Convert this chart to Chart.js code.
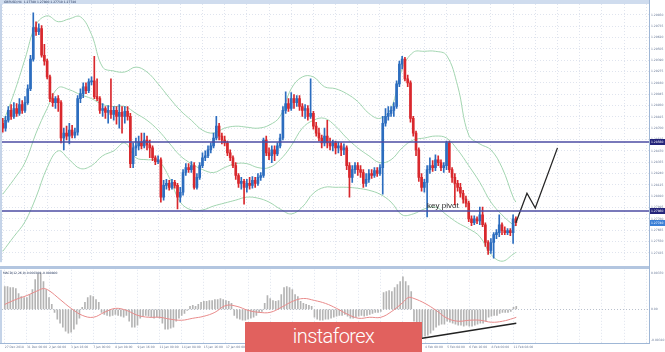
<!DOCTYPE html>
<html>
<head>
<meta charset="utf-8">
<title>GBPUSD H4</title>
<script src="https://cdn.jsdelivr.net/npm/chart.js@4.4.0/dist/chart.umd.min.js"></script>
<style>
  html, body { margin:0; padding:0; background:#ffffff; }
  body { width:665px; height:352px; overflow:hidden; position:relative; }
  canvas { position:absolute; left:0; display:block; }
  #mainCanvas { top:0; }
  #macdCanvas { top:266px; }
  #logo { position:absolute; left:245px; top:322px; width:177px; height:30px; background:#e1615e; color:#fff;
          font-family:Roboto, 'Open Sans', sans-serif; font-weight:300; font-size:20px; letter-spacing:-0.6px;
          line-height:28px; text-align:center; }
</style>
</head>
<body>
<canvas id="mainCanvas" width="665" height="266"></canvas>
<canvas id="macdCanvas" width="665" height="86"></canvas>
<div id="logo">instaforex</div>
<script>
// ---------------- DATA ----------------
const mainTitle = "GBPUSD,H4  1.27780 1.27800 1.27710 1.27740";
const macdTitle = "MACD(12,26,9) 0.000300 -0.000800";
const pivotLabel = "key pivot";

const dateTicks = ["27 Dec 2018","31 Dec 00:00","2 Jan 08:00","3 Jan 16:00","7 Jan 00:00","8 Jan 08:00",
  "9 Jan 16:00","11 Jan 00:00","14 Jan 08:00","15 Jan 16:00","17 Jan 00:00","18 Jan 08:00","21 Jan 16:00",
  "23 Jan 00:00","24 Jan 08:00","25 Jan 16:00","29 Jan 00:00","30 Jan 08:00","31 Jan 16:00","4 Feb 00:00",
  "5 Feb 08:00","6 Feb 16:00","8 Feb 00:00","11 Feb 08:00"];

const priceTicks = [1.2985,1.29735,1.2962,1.29505,1.2939,1.29275,1.2916,1.29045,1.2893,1.28815,1.287,
  1.28585,1.2847,1.28355,1.2824,1.28125,1.2801,1.27895,1.2778,1.27665,1.2755,1.27435];
const macdTicks = [0.0037, 0, -0.0031];

const open = [1.2875,1.2870,1.2878,1.2888,1.2882,1.2890,1.2885,1.2894,1.2888,1.2896,
1.2910,1.2940,1.2972,1.2968,1.2971,1.2944,1.2938,1.2922,1.2900,1.2896,
1.2900,1.2896,1.2860,1.2865,1.2862,1.2868,1.2863,1.2866,1.2900,1.2905,
1.2912,1.2908,1.2917,1.2918,1.2902,1.2900,1.2888,1.2890,1.2886,1.2888,
1.2884,1.2888,1.2882,1.2886,1.2882,1.2887,1.2882,1.2834,1.2850,1.2852,
1.2856,1.2852,1.2858,1.2853,1.2850,1.2840,1.2836,1.2838,1.2800,1.2812,
1.2814,1.2810,1.2815,1.2812,1.2800,1.2805,1.2825,1.2830,1.2828,1.2832,
1.2810,1.2820,1.2832,1.2840,1.2842,1.2848,1.2852,1.2860,1.2872,1.2862,
1.2858,1.2855,1.2845,1.2840,1.2832,1.2822,1.2814,1.2816,1.2810,1.2814,
1.2812,1.2817,1.2814,1.2820,1.2822,1.2858,1.2845,1.2842,1.2848,1.2844,
1.2852,1.2860,1.2888,1.2895,1.2890,1.2900,1.2896,1.2900,1.2892,1.2888,
1.2890,1.2882,1.2885,1.2872,1.2865,1.2860,1.2855,1.2862,1.2855,1.2852,
1.2855,1.2850,1.2852,1.2848,1.2850,1.2832,1.2820,1.2828,1.2832,1.2828,
1.2825,1.2814,1.2818,1.2824,1.2822,1.2827,1.2824,1.2830,1.2875,1.2882,
1.2885,1.2888,1.2892,1.2915,1.2935,1.2940,1.2920,1.2916,1.2880,1.2865,
1.2848,1.2820,1.2810,1.2815,1.2828,1.2832,1.2830,1.2838,1.2835,1.2830,
1.2832,1.2855,1.2828,1.2820,1.2814,1.2810,1.2804,1.2798,1.2794,1.2778,
1.2774,1.2778,1.2776,1.2782,1.2772,1.2754,1.2746,1.2754,1.2762,1.2764,
1.2772,1.2766,1.2764,1.2766,1.2764,1.2778];

const high = [1.2880,1.2882,1.2892,1.2894,1.2896,1.2895,1.2900,1.2898,1.2902,1.2914,
1.2944,1.2987,1.2978,1.2976,1.2974,1.2955,1.2940,1.2924,1.2905,1.2902,
1.2903,1.2898,1.2870,1.2872,1.2875,1.2873,1.2870,1.2903,1.2910,1.2916,
1.2916,1.2920,1.2922,1.2943,1.2920,1.2902,1.2895,1.2892,1.2893,1.2920,
1.2892,1.2892,1.2894,1.2892,1.2892,1.2892,1.2885,1.2855,1.2860,1.2862,
1.2865,1.2865,1.2862,1.2858,1.2852,1.2842,1.2842,1.2840,1.2817,1.2818,
1.2817,1.2818,1.2817,1.2814,1.2810,1.2828,1.2834,1.2834,1.2836,1.2835,
1.2824,1.2835,1.2845,1.2847,1.2852,1.2855,1.2865,1.2882,1.2875,1.2865,
1.2862,1.2857,1.2848,1.2842,1.2835,1.2824,1.2820,1.2818,1.2818,1.2820,
1.2821,1.2820,1.2824,1.2825,1.2860,1.2862,1.2850,1.2852,1.2852,1.2855,
1.2864,1.2892,1.2907,1.2900,1.2906,1.2904,1.2903,1.2903,1.2895,1.2894,
1.2893,1.2920,1.2887,1.2876,1.2870,1.2863,1.2870,1.2878,1.2860,1.2858,
1.2857,1.2856,1.2855,1.2854,1.2852,1.2835,1.2832,1.2835,1.2835,1.2832,
1.2828,1.2824,1.2828,1.2828,1.2830,1.2830,1.2833,1.2882,1.2890,1.2892,
1.2892,1.2896,1.2918,1.2938,1.2943,1.2942,1.2924,1.2918,1.2882,1.2867,
1.2850,1.2824,1.2818,1.2832,1.2840,1.2837,1.2843,1.2842,1.2838,1.2835,
1.2857,1.2857,1.2830,1.2824,1.2817,1.2814,1.2807,1.2801,1.2796,1.2781,
1.2781,1.2780,1.2790,1.2790,1.2774,1.2756,1.2758,1.2764,1.2767,1.2782,
1.2774,1.2770,1.2768,1.2768,1.2782,1.2780];

const low = [1.2866,1.2867,1.2876,1.2879,1.2880,1.2882,1.2883,1.2885,1.2886,1.2894,
1.2908,1.2938,1.2964,1.2965,1.2942,1.2934,1.2920,1.2897,1.2892,1.2890,
1.2887,1.2855,1.2848,1.2858,1.2854,1.2860,1.2860,1.2863,1.2896,1.2901,
1.2905,1.2906,1.2914,1.2900,1.2898,1.2885,1.2882,1.2880,1.2875,1.2880,
1.2878,1.2874,1.2870,1.2865,1.2875,1.2878,1.2830,1.2830,1.2842,1.2848,
1.2849,1.2850,1.2848,1.2840,1.2837,1.2833,1.2834,1.2795,1.2797,1.2808,
1.2807,1.2808,1.2809,1.2788,1.2795,1.2802,1.2822,1.2825,1.2825,1.2808,
1.2808,1.2818,1.2830,1.2837,1.2840,1.2845,1.2850,1.2858,1.2858,1.2854,
1.2852,1.2842,1.2837,1.2830,1.2818,1.2810,1.2808,1.2793,1.2805,1.2808,
1.2809,1.2810,1.2812,1.2817,1.2820,1.2842,1.2838,1.2835,1.2837,1.2842,
1.2850,1.2858,1.2885,1.2887,1.2888,1.2890,1.2892,1.2888,1.2882,1.2880,
1.2878,1.2880,1.2869,1.2862,1.2857,1.2850,1.2852,1.2850,1.2848,1.2847,
1.2844,1.2845,1.2842,1.2843,1.2828,1.2800,1.2815,1.2824,1.2822,1.2820,
1.2810,1.2811,1.2815,1.2819,1.2820,1.2821,1.2822,1.2803,1.2872,1.2878,
1.2882,1.2882,1.2890,1.2912,1.2930,1.2918,1.2912,1.2876,1.2862,1.2842,
1.2816,1.2806,1.2805,1.2780,1.2824,1.2826,1.2827,1.2832,1.2827,1.2825,
1.2828,1.2825,1.2815,1.2792,1.2806,1.2800,1.2794,1.2790,1.2775,1.2771,
1.2772,1.2773,1.2772,1.2770,1.2750,1.2742,1.2743,1.2738,1.2758,1.2760,
1.2762,1.2762,1.2762,1.2761,1.2753,1.2771];

const close = [1.2870,1.2878,1.2888,1.2882,1.2890,1.2885,1.2894,1.2888,1.2896,1.2910,
1.2940,1.2972,1.2968,1.2971,1.2944,1.2938,1.2922,1.2900,1.2896,1.2900,
1.2896,1.2860,1.2865,1.2862,1.2868,1.2863,1.2866,1.2900,1.2905,1.2912,
1.2908,1.2917,1.2918,1.2902,1.2900,1.2888,1.2890,1.2886,1.2888,1.2884,
1.2888,1.2882,1.2886,1.2882,1.2887,1.2882,1.2834,1.2850,1.2852,1.2856,
1.2852,1.2858,1.2853,1.2850,1.2840,1.2836,1.2838,1.2800,1.2812,1.2814,
1.2810,1.2815,1.2812,1.2800,1.2805,1.2825,1.2830,1.2828,1.2832,1.2810,
1.2820,1.2832,1.2840,1.2842,1.2848,1.2852,1.2860,1.2872,1.2862,1.2858,
1.2855,1.2845,1.2840,1.2832,1.2822,1.2814,1.2816,1.2810,1.2814,1.2812,
1.2817,1.2814,1.2820,1.2822,1.2858,1.2845,1.2842,1.2848,1.2844,1.2852,
1.2860,1.2888,1.2895,1.2890,1.2900,1.2896,1.2900,1.2892,1.2888,1.2890,
1.2882,1.2885,1.2872,1.2865,1.2860,1.2855,1.2862,1.2855,1.2852,1.2855,
1.2850,1.2852,1.2848,1.2850,1.2832,1.2820,1.2828,1.2832,1.2828,1.2825,
1.2814,1.2818,1.2824,1.2822,1.2827,1.2824,1.2830,1.2875,1.2882,1.2885,
1.2888,1.2892,1.2915,1.2935,1.2940,1.2920,1.2916,1.2880,1.2865,1.2848,
1.2820,1.2810,1.2815,1.2828,1.2832,1.2830,1.2838,1.2835,1.2830,1.2832,
1.2855,1.2828,1.2820,1.2814,1.2810,1.2804,1.2798,1.2794,1.2778,1.2774,
1.2778,1.2776,1.2782,1.2772,1.2754,1.2746,1.2754,1.2762,1.2764,1.2772,
1.2766,1.2764,1.2766,1.2764,1.2778,1.2774];

// Bollinger bands read every 4 bars
const bandBars = [0,4,8,12,16,20,24,28,32,36,40,44,48,52,56,60,64,68,72,76,80,84,88,92,96,100,
  104,108,112,116,120,124,128,132,136,140,144,148,152,156,160,164,168,172,176,180,184,185];
const upperBand = [1.2875,1.2905,1.2940,1.2975,1.2984,1.2978,1.2981,1.2983,1.2965,1.2932,
1.2928,1.2927,1.2932,1.2927,1.2915,1.2901,1.2888,1.2878,1.2868,1.2865,
1.2870,1.2872,1.2871,1.2870,1.2873,1.2882,1.2910,1.2922,1.2922,1.2912,
1.2910,1.2905,1.2897,1.2885,1.2880,1.2890,1.2930,1.2947,1.2948,1.2948,
1.2944,1.2913,1.2863,1.2854,1.2848,1.2830,1.2800,1.2795];
const middleBand = [1.2803,1.2818,1.2835,1.2865,1.2890,1.2911,1.2909,1.2904,1.2900,1.2894,
1.2892,1.2892,1.2885,1.2878,1.2868,1.2855,1.2842,1.2834,1.2828,1.2825,
1.2830,1.2834,1.2834,1.2830,1.2830,1.2838,1.2852,1.2870,1.2878,1.2880,
1.2872,1.2860,1.2850,1.2842,1.2835,1.2838,1.2850,1.2858,1.2860,1.2862,
1.2860,1.2848,1.2832,1.2815,1.2795,1.2782,1.2772,1.2771];
const lowerBand = [1.2745,1.2760,1.2775,1.2800,1.2830,1.2847,1.2838,1.2829,1.2832,1.2842,
1.2847,1.2855,1.2840,1.2838,1.2837,1.2820,1.2795,1.2787,1.2787,1.2791,
1.2794,1.2797,1.2800,1.2799,1.2795,1.2788,1.2783,1.2790,1.2804,1.2810,
1.2810,1.2810,1.2809,1.2807,1.2803,1.2795,1.2782,1.2783,1.2788,1.2790,
1.2782,1.2774,1.2768,1.2760,1.2742,1.2735,1.2742,1.2744];

const levels = [1.2856, 1.2786];
const pivotBar = 153;

// forecast path
const forecastBars = [185, 189, 192, 200];
const forecastPrices = [1.2774, 1.2804, 1.2789, 1.2850];

// MACD
const macdMain = [0.0023,0.0023,0.0022,0.0022,0.0021,0.0016,0.0013,0.0012,0.0012,0.0015,
0.0020,0.0030,0.0036,0.0037,0.0028,0.0020,0.0012,0.0005,-0.0003,-0.0010,
-0.0014,-0.0018,-0.0022,-0.0024,-0.0023,-0.0020,-0.0015,-0.0009,0.0002,0.0007,
0.0012,0.0014,0.0013,0.0010,0.0007,-0.0003,-0.0005,-0.0006,-0.0007,-0.0006,
-0.0005,-0.0006,-0.0007,-0.0008,-0.0006,-0.0012,-0.0018,-0.0018,-0.0016,-0.0009,
-0.0007,-0.0006,-0.0007,-0.0008,-0.0009,-0.0008,-0.0009,-0.0014,-0.0020,-0.0020,
-0.0019,-0.0018,-0.0012,-0.0009,-0.0006,-0.0004,-0.0001,0.0003,0.0004,0.0003,
0.0005,0.0007,0.0008,0.0008,0.0009,0.0009,0.0010,0.0010,0.0011,0.0010,
0.0009,0.0008,0.0006,-0.0006,-0.0009,-0.0010,-0.0011,-0.0011,-0.0010,-0.0009,
-0.0008,-0.0006,-0.0003,-0.0002,0.0006,0.0014,0.0011,0.0009,0.0008,0.0009,
0.0015,0.0022,0.0023,0.0022,0.0020,0.0015,0.0013,0.0008,0.0006,0.0005,
0.0004,0.0003,-0.0008,-0.0010,-0.0011,-0.0011,-0.0010,-0.0010,-0.0009,-0.0008,
-0.0007,-0.0006,-0.0006,-0.0005,-0.0007,-0.0009,-0.0009,-0.0008,-0.0007,-0.0006,
-0.0007,-0.0006,-0.0005,-0.0004,-0.0003,-0.0003,-0.0002,0.0017,0.0018,0.0019,
0.0018,0.0022,0.0025,0.0028,0.0033,0.0028,0.0024,0.0018,-0.0012,-0.0018,
-0.0024,-0.0028,-0.0027,-0.0026,-0.0024,-0.0021,-0.0018,-0.0016,-0.0015,-0.0015,
-0.0012,-0.0013,-0.0014,-0.0015,-0.0016,-0.0016,-0.0017,-0.0016,-0.0017,-0.0017,
-0.0016,-0.0015,-0.0014,-0.0014,-0.0012,-0.0008,-0.0007,-0.0006,-0.0006,-0.0004,
-0.0003,-0.0003,-0.0003,-0.0002,0.0002,0.0003];

const signalBars = [0,4,8,12,14,16,20,24,28,32,36,40,44,48,52,56,60,64,68,72,76,80,84,88,92,96,
  100,104,108,112,116,120,124,128,132,136,140,144,146,148,152,156,160,164,168,172,176,180,184,185];
const macdSignal = [0.0005,0.0010,0.0014,0.0019,0.0021,0.0019,0.0010,0.0001,-0.0006,-0.0008,
-0.0003,0.0001,-0.0001,-0.0006,-0.0008,-0.0008,-0.0010,-0.0011,-0.0009,-0.0007,
-0.0003,0.0004,0.0003,-0.0001,-0.0003,-0.0003,0.0002,0.0008,0.0011,0.0009,
0.0006,0.0001,-0.0005,-0.0009,-0.0008,-0.0008,-0.0002,0.0007,0.0012,0.0011,
0.0006,-0.0001,-0.0009,-0.0012,-0.0011,-0.0011,-0.0013,-0.0012,-0.0009,-0.0008];

const trendBars = [147, 185];
const trendValues = [-0.0031, -0.0014];

// ---------------- BUILD ----------------
const N_SLOTS = 235, TICK_EVERY = 8;
const BLUE = '#2c6dbf', RED = '#d9282d', BAND = '#a2d5b0', GRID = '#dfe4ee';
const LEVEL_COLOR = '#4d4da3', AXIS_TXT = '#6a7a98';
const nBars = open.length;
const slots = Array.from({length: N_SLOTS}, (_, s) => String(s));
const inBar = b => b >= 0 && b < nBars;
const perSlot = fn => slots.map((_, s) => inBar(s - 1) ? fn(s - 1) : null);
function sparse(bars, vals) {
  const a = new Array(N_SLOTS).fill(null);
  bars.forEach((b, k) => { a[b + 1] = vals[k]; });
  return a;
}
const candleColors = slots.map((_, s) => inBar(s - 1) ? (close[s - 1] >= open[s - 1] ? BLUE : RED) : 'rgba(0,0,0,0)');
const vGrid = c => ((c.index - 1) % TICK_EVERY === 0 ? GRID : 'rgba(0,0,0,0)');
const smallFont = {size: 3, family: 'DejaVu Sans'};

const mainDecor = {
  id: 'mainDecor',
  beforeDraw(chart) {
    const {ctx} = chart;
    ctx.save();
    ctx.fillStyle = '#cfdcee';
    ctx.fillRect(0, 0, 649, 4);
    ctx.restore();
  },
  afterDatasetsDraw(chart) {
    const {ctx, chartArea: a, scales: {x, y}} = chart;
    ctx.save();
    ctx.strokeStyle = LEVEL_COLOR;
    ctx.lineWidth = 1.6;
    levels.forEach(v => {
      const py = y.getPixelForValue(v);
      ctx.beginPath(); ctx.moveTo(a.left, py); ctx.lineTo(a.right, py); ctx.stroke();
    });
    ctx.fillStyle = '#2b2b2b';
    ctx.font = '8px "Liberation Sans", Arial, sans-serif';
    ctx.textAlign = 'left';
    ctx.textBaseline = 'alphabetic';
    ctx.fillText(pivotLabel, x.getPixelForValue(pivotBar + 1), y.getPixelForValue(levels[1]) - 3);
    ctx.restore();
  },
  afterDraw(chart) {
    const {ctx, chartArea: a, scales: {y}} = chart;
    ctx.save();
    ctx.fillStyle = '#c4d3e8';
    ctx.fillRect(0, a.top, 2, a.bottom - a.top);
    ctx.fillStyle = '#9fb7d6';
    ctx.fillRect(a.right, 0, 1, chart.height);
    ctx.fillStyle = '#23355c';
    ctx.font = '3px "DejaVu Sans"';
    ctx.textBaseline = 'middle';
    ctx.textAlign = 'left';
    ctx.fillText(mainTitle, 4, 2.2);
    const box = (v, col) => {
      const py = Math.round(y.getPixelForValue(v));
      ctx.fillStyle = col;
      ctx.fillRect(a.right + 1, py - 3, 15, 6);
      ctx.fillStyle = '#ffffff';
      ctx.font = '3px "DejaVu Sans"';
      ctx.fillText(v.toFixed(5), a.right + 2, py);
    };
    levels.forEach(v => box(v, '#25257a'));
    box(close[nBars - 1], '#3b7fd6');
    ctx.restore();
  }
};

new Chart(document.getElementById('mainCanvas'), {
  type: 'bar',
  data: {
    labels: slots,
    datasets: [
      {type: 'line', data: sparse(bandBars, upperBand), borderColor: BAND, borderWidth: 1, pointRadius: 0, tension: 0.4, spanGaps: true, order: 6},
      {type: 'line', data: sparse(bandBars, middleBand), borderColor: BAND, borderWidth: 1, pointRadius: 0, tension: 0.4, spanGaps: true, order: 6},
      {type: 'line', data: sparse(bandBars, lowerBand), borderColor: BAND, borderWidth: 1, pointRadius: 0, tension: 0.4, spanGaps: true, order: 6},
      {type: 'bar', data: perSlot(b => [low[b], high[b]]), backgroundColor: candleColors, barThickness: 1, grouped: false, order: 4},
      {type: 'bar', data: perSlot(b => [open[b], close[b]]), backgroundColor: candleColors, barThickness: 2, grouped: false, minBarLength: 1, order: 3},
      {type: 'line', data: sparse(forecastBars, forecastPrices), borderColor: '#262626', borderWidth: 1.3, pointRadius: 0, tension: 0, spanGaps: true, order: 1}
    ]
  },
  options: {
    responsive: false, animation: false, devicePixelRatio: 1,
    layout: {padding: {top: 4, left: 0, right: 0, bottom: 0}},
    plugins: {legend: {display: false}, tooltip: {enabled: false}},
    scales: {
      x: {type: 'category', offset: false,
          ticks: {display: false},
          grid: {color: vGrid, drawTicks: false, offset: false, lineWidth: 1, borderDash: [1, 2]},
          border: {display: false, dash: [1, 2]}},
      y: {position: 'right', min: 1.2734, max: 1.2996,
          afterBuildTicks: s => { s.ticks = priceTicks.map(v => ({value: v})); },
          afterFit: s => { s.width = 16; },
          ticks: {font: smallFont, color: AXIS_TXT, padding: 2, callback: v => Number(v).toFixed(5)},
          grid: {color: GRID, drawTicks: false, borderDash: [1, 2]},
          border: {display: false, dash: [1, 2]}}
    }
  },
  plugins: [mainDecor]
});

const macdDecor = {
  id: 'macdDecor',
  afterDraw(chart) {
    const {ctx, chartArea: a} = chart;
    ctx.save();
    ctx.fillStyle = '#b3c6e0';
    ctx.fillRect(0, 0, 649, 3);
    ctx.fillStyle = '#9fb7d6';
    ctx.fillRect(0, a.bottom, 649, 1);
    ctx.fillRect(a.right, 0, 1, a.bottom + 1);
    ctx.fillStyle = '#c4d3e8';
    ctx.fillRect(0, a.top, 2, a.bottom - a.top);
    ctx.fillStyle = '#23355c';
    ctx.font = '3px "DejaVu Sans"';
    ctx.textBaseline = 'middle';
    ctx.textAlign = 'left';
    ctx.fillText(macdTitle, 3, a.top + 3);
    ctx.restore();
  }
};

new Chart(document.getElementById('macdCanvas'), {
  type: 'bar',
  data: {
    labels: slots,
    datasets: [
      {type: 'bar', data: perSlot(b => macdMain[b]), backgroundColor: '#b4b4b4', barThickness: 1, order: 3},
      {type: 'line', data: sparse(signalBars, macdSignal), borderColor: '#e98b8b', borderWidth: 1, pointRadius: 0, tension: 0.4, spanGaps: true, order: 2},
      {type: 'line', data: sparse(trendBars, trendValues), borderColor: '#222222', borderWidth: 1.4, pointRadius: 0, tension: 0, spanGaps: true, order: 1}
    ]
  },
  options: {
    responsive: false, animation: false, devicePixelRatio: 1,
    layout: {padding: {top: 3, left: 0, right: 0, bottom: 0}},
    plugins: {legend: {display: false}, tooltip: {enabled: false}},
    scales: {
      x: {type: 'category', offset: false,
          afterFit: s => { s.height = 9; },
          ticks: {autoSkip: false, maxRotation: 0, minRotation: 0, align: 'start', padding: 2,
                  font: smallFont, color: AXIS_TXT,
                  callback: (v, i) => ((i - 1) % TICK_EVERY === 0 ? (dateTicks[(i - 1) / TICK_EVERY] || '') : '')},
          grid: {color: vGrid, drawTicks: false, offset: false, lineWidth: 1, borderDash: [1, 2]},
          border: {display: false, dash: [1, 2]}},
      y: {position: 'right', min: -0.0034, max: 0.0040,
          afterBuildTicks: s => { s.ticks = macdTicks.map(v => ({value: v})); },
          afterFit: s => { s.width = 16; },
          ticks: {font: smallFont, color: AXIS_TXT, padding: 2, callback: v => (v === 0 ? '0.00' : Number(v).toFixed(5))},
          grid: {color: c => (c.tick && c.tick.value === 0 ? '#b9c0cc' : 'rgba(0,0,0,0)'), drawTicks: false, borderDash: [1, 2]},
          border: {display: false, dash: [1, 2]}}
    }
  },
  plugins: [macdDecor]
});
</script>
</body>
</html>
